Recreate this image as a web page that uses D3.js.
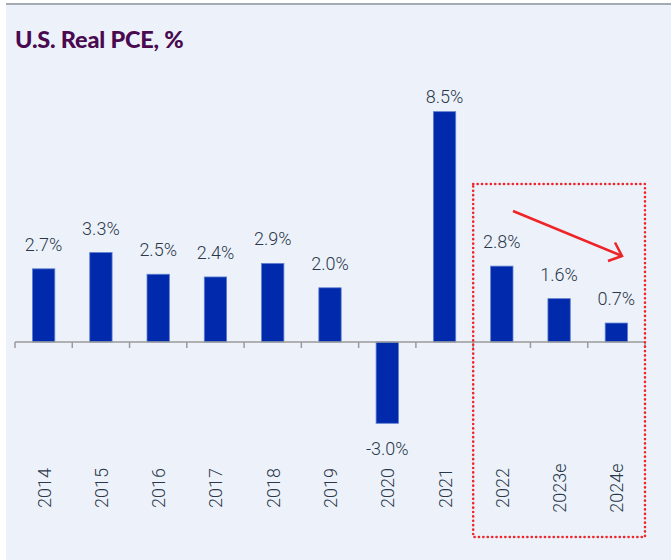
<!DOCTYPE html>
<html>
<head>
<meta charset="utf-8">
<script src="https://cdn.jsdelivr.net/npm/d3@7"></script>
<style>
  body { margin: 0; background: #fff; }
  .value-label, .year-label { font-family: Roboto, "Open Sans", sans-serif; font-weight: 300; font-size: 18px; fill: #2b384a; }
  .title { font-family: Lato, sans-serif; font-weight: 900; font-size: 23.5px; fill: #4a0a50; letter-spacing: -0.2px; }
</style>
</head>
<body>
<div id="chart"></div>
<script>
const width = 671,
  height = 560,
  margin = { top: 98, bottom: 110, left: 15, right: 26 };

const years = ["2014", "2015", "2016", "2017", "2018", "2019", "2020", "2021", "2022", "2023e", "2024e"];
const pce = [2.7, 3.3, 2.5, 2.4, 2.9, 2.0, -3.0, 8.5, 2.8, 1.6, 0.7];
const valueLabels = ["2.7%", "3.3%", "2.5%", "2.4%", "2.9%", "2.0%", "-3.0%", "8.5%", "2.8%", "1.6%", "0.7%"];
const forecastYears = ["2022", "2023e", "2024e"];

const data = years.map((y, i) => ({ year: y, value: pce[i], label: valueLabels[i] }));

const svg = d3.select("#chart")
  .append("svg")
  .attr("width", width)
  .attr("height", height);

// panel background + top rule
svg.append("rect")
  .attr("x", 6).attr("y", 4)
  .attr("width", width - 6).attr("height", height - 4)
  .attr("fill", "#edf2fa");
svg.append("line")
  .attr("x1", 6).attr("x2", width)
  .attr("y1", 4).attr("y2", 4)
  .attr("stroke", "#a3aab2").attr("stroke-width", 2);

svg.append("text")
  .attr("class", "title")
  .attr("x", 15).attr("y", 48)
  .text("U.S. Real PCE, %");

const xScale = d3.scaleBand()
  .domain(years)
  .range([margin.left, width - margin.right]);

const yScale = d3.scaleLinear()
  .domain([-4, 9])
  .range([342 + 4 * 27.1, 342 - 9 * 27.1]);

const barW = xScale.bandwidth() * 0.39;

// bars
svg.selectAll("rect.bar")
  .data(data)
  .join("rect")
  .attr("class", "bar")
  .attr("x", d => xScale(d.year) + (xScale.bandwidth() - barW) / 2)
  .attr("y", d => yScale(Math.max(0, d.value)))
  .attr("width", barW)
  .attr("height", d => Math.abs(yScale(d.value) - yScale(0)))
  .attr("fill", "#0029ab")
  .attr("stroke", "#5f7fd0")
  .attr("stroke-width", 0.8);

// value labels
svg.selectAll("text.value-label")
  .data(data)
  .join("text")
  .attr("class", "value-label")
  .attr("text-anchor", "middle")
  .attr("x", d => xScale(d.year) + xScale.bandwidth() / 2)
  .attr("y", d => d.value >= 0
    ? Math.max(yScale(d.value) - 18, 103)
    : yScale(d.value) + 32)
  .text(d => d.label);

// zero axis with ticks between categories
const axisG = svg.append("g").attr("class", "axis");
axisG.append("line")
  .attr("x1", margin.left).attr("x2", width - margin.right)
  .attr("y1", yScale(0)).attr("y2", yScale(0))
  .attr("stroke", "#9a9a9a").attr("stroke-width", 1.5);
const tickXs = years.map(y => xScale(y)).concat([xScale.range()[1]]);
axisG.selectAll("line.tick")
  .data(tickXs)
  .join("line")
  .attr("class", "tick")
  .attr("x1", d => d).attr("x2", d => d)
  .attr("y1", yScale(0)).attr("y2", yScale(0) + 6)
  .attr("stroke", "#9a9a9a").attr("stroke-width", 1.5);

// rotated year labels
svg.selectAll("text.year-label")
  .data(years)
  .join("text")
  .attr("class", "year-label")
  .attr("text-anchor", "middle")
  .attr("transform", d => `translate(${xScale(d) + xScale.bandwidth() / 2 + 7},488) rotate(-90)`)
  .text(d => d);

// forecast highlight box
const boxX0 = xScale(forecastYears[0]);
const boxX1 = xScale(forecastYears[forecastYears.length - 1]) + xScale.bandwidth();
svg.append("rect")
  .attr("x", boxX0).attr("y", 184)
  .attr("width", boxX1 - boxX0).attr("height", 537 - 184)
  .attr("fill", "none")
  .attr("stroke", "#f0262b")
  .attr("stroke-width", 2.6)
  .attr("stroke-linecap", "round")
  .attr("stroke-dasharray", "0.1,4.3");

// trend arrow
const arrowFrom = [513, 211], arrowTo = [622, 256];
svg.append("line")
  .attr("x1", arrowFrom[0]).attr("y1", arrowFrom[1])
  .attr("x2", arrowTo[0]).attr("y2", arrowTo[1])
  .attr("stroke", "#ee2428").attr("stroke-width", 2.5);
svg.append("path")
  .attr("d", `M615,242.5 L${arrowTo[0]},${arrowTo[1]} L608,261`)
  .attr("fill", "none")
  .attr("stroke", "#ee2428").attr("stroke-width", 2.5)
  .attr("stroke-linejoin", "miter");
</script>
</body>
</html>
